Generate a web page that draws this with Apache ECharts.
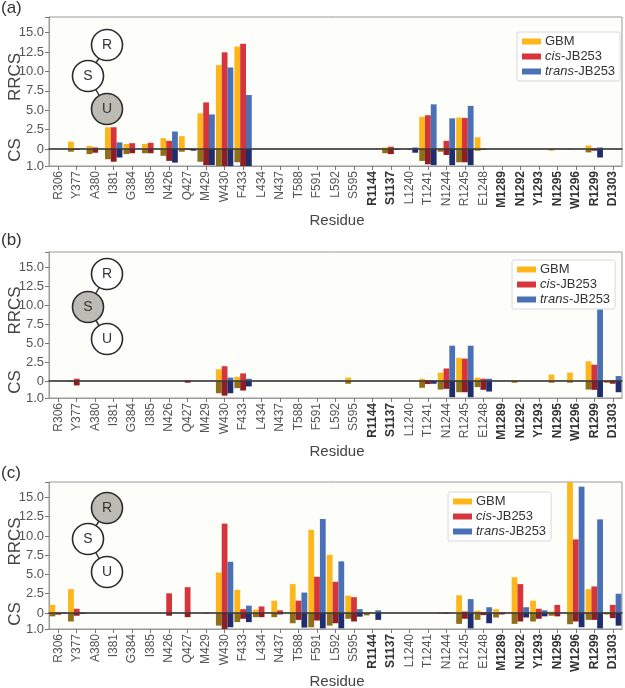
<!DOCTYPE html>
<html><head><meta charset="utf-8">
<script src="https://cdn.jsdelivr.net/npm/echarts@6/dist/echarts.min.js"></script>
<style>html,body{margin:0;padding:0;background:#fff}#c{width:625px;height:688px}</style>
</head><body><div id="c"></div>
<script>
var categories = ['R306','Y377','A380','I381','G384','I385','N426','Q427','M429','W430','F433','L434','N437','T588','F591','L592','S595','R1144','S1137','L1240','T1241','N1244','R1245','E1248','M1289','N1292','Y1293','N1295','W1296','R1299','D1303'];
var boldResidues = ['R1144','S1137','M1289','N1292','Y1293','N1295','W1296','R1299','D1303'];
var seriesNames = ['GBM','cis-JB253','trans-JB253'];
var rrcsTicks = [0, 2.5, 5, 7.5, 10, 12.5, 15];
var panelLabels = ['(a)','(b)','(c)'];
var highlighted = ['U','S','R'];

// Panel (a)
var a_gbm_rrcs   = [0,0.95,0.4,2.8,0.65,0.65,1.4,1.65,4.6,10.8,13.2,0,0,0,0,0,0,0,0.2,0,4.15,0.1,4.05,1.5,0,0,0,0.05,0,0.45,0];
var a_gbm_cs     = [0,0.16,0.3,0.6,0.3,0.25,0.4,0.16,0.75,1.0,0.78,0,0,0,0,0,0,0,0.25,0,0.7,0.16,0.78,0.1,0,0,0,0.08,0.03,0.2,0];
var a_cis_rrcs   = [0,0.05,0.2,2.8,0.75,0.8,1.05,0.05,6.0,12.45,13.55,0,0,0,0,0,0,0,0.3,0.02,4.35,1.05,4.0,0.03,0,0,0,0,0,0.1,0];
var a_cis_cs     = [0,0.05,0.22,0.75,0.25,0.25,0.7,0.05,0.95,1.0,1.0,0,0,0,0,0,0,0,0.3,0.02,0.9,0.35,0.78,0.05,0,0,0,0,0,0.1,0];
var a_trans_rrcs = [0,0,0,0.85,0,0,2.25,0,4.45,10.5,6.95,0,0,0,0,0,0,0,0.03,0.2,5.75,3.95,5.55,0,0,0,0,0,0,0.2,0];
var a_trans_cs   = [0,0,0,0.5,0,0,0.8,0.1,0.95,1.0,1.0,0,0,0,0,0,0,0,0.04,0.22,0.95,0.95,0.95,0,0,0,0,0,0,0.5,0];
// Panel (b)
var b_gbm_rrcs   = [0,0.05,0,0,0,0,0,0,0,1.55,0.55,0,0,0,0,0,0.45,0,0,0,0.3,1.1,3.05,0.45,0,0.1,0,0.85,1.1,2.6,0.1];
var b_gbm_cs     = [0,0.05,0,0,0,0,0,0,0,0.72,0.42,0,0,0,0,0,0.16,0,0,0,0.4,0.5,0.66,0.36,0,0.1,0,0.1,0.1,0.5,0.1];
var b_cis_rrcs   = [0,0.3,0,0,0,0,0,0.1,0,1.95,1.0,0,0,0,0,0,0,0,0,0,0.1,1.65,2.95,0.3,0,0,0,0,0,2.15,0.1];
var b_cis_cs     = [0,0.26,0,0,0,0,0,0.1,0,0.86,0.56,0,0,0,0,0,0,0,0,0,0.18,0.46,0.66,0.52,0,0,0,0,0,0.52,0.16];
var b_trans_rrcs = [0,0,0,0,0,0,0,0,0,0.45,0.3,0,0,0,0,0,0,0,0,0,0.05,4.65,4.65,0.3,0,0,0,0,0,9.45,0.65];
var b_trans_cs   = [0,0,0,0,0,0,0,0,0,0.72,0.32,0,0,0,0,0,0,0,0,0,0.16,0.95,0.95,0.62,0,0,0,0,0,0.95,0.66];
// Panel (c)
var c_gbm_rrcs   = [1.05,3.1,0,0,0,0,0,0,0,5.25,3.0,0.45,1.6,3.75,10.8,7.55,2.25,0.05,0,0,0,0.03,2.3,0.3,0.5,4.65,1.6,0.2,17.5,3.1,0.05];
var c_gbm_cs     = [0.21,0.53,0,0,0,0,0,0,0,0.79,0.57,0.26,0.26,0.64,0.89,0.79,0.36,0.15,0,0,0,0.05,0.68,0.43,0.28,0.68,0.53,0.17,0.7,0.43,0.09];
var c_cis_rrcs   = [0.05,0.55,0,0,0,0,2.55,3.35,0.05,11.6,0.5,0.85,0.35,1.6,4.7,4.05,2.05,0,0,0,0,0.03,0.2,0.13,0.05,3.75,0.55,1.05,9.55,3.45,1.05];
var c_cis_cs     = [0.1,0.17,0,0,0,0,0.17,0.26,0.03,1.0,0.36,0.26,0.09,0.43,0.47,0.64,0.53,0,0,0,0,0.05,0.36,0.13,0.09,0.53,0.36,0.21,0.53,0.43,0.32];
var c_trans_rrcs = [0.03,0.03,0,0,0,0,0,0,0,6.65,0.95,0,0,2.65,12.2,6.7,0.5,0.35,0,0,0,0,1.8,0.75,0,0.75,0.35,0,16.4,12.15,2.5];
var c_trans_cs   = [0.03,0.06,0,0,0,0,0,0,0,0.89,0.57,0,0,0.91,0.96,0.96,0.23,0.43,0,0,0,0,0.96,0.64,0,0.28,0.21,0,0.89,0.96,0.79];

var rrcsData = [[a_gbm_rrcs,a_cis_rrcs,a_trans_rrcs],[b_gbm_rrcs,b_cis_rrcs,b_trans_rrcs],[c_gbm_rrcs,c_cis_rrcs,c_trans_rrcs]];
var csData = [[a_gbm_cs,a_cis_cs,a_trans_cs],[b_gbm_cs,b_cis_cs,b_trans_cs],[c_gbm_cs,c_cis_cs,c_trans_cs]];

var posColors = ['#FDB71A','#D6353C','#4A70B6'];
var negColors = ['#8F7019','#8E1D24','#1F2D6E'];
var FONT = 'Liberation Sans, Arial, sans-serif';

var layout = [
  {top:17, zero:149, bottom:166, legend:[517,32], circ:{R:[107,45],S:[88,76],U:[107,109]}, labelY:10, resY:221},
  {top:252, zero:381, bottom:398, legend:[512,260], circ:{R:[107,274],S:[88,307],U:[107,339]}, labelY:242, resY:452},
  {top:482, zero:613, bottom:629, legend:[448,492], circ:{R:[107,508],S:[88,539],U:[107,572]}, labelY:475, resY:682}
];
var LEFT = 49, RIGHT = 3;

var grids=[], xAxes=[], yAxes=[], series=[], legends=[], graphics=[];
layout.forEach(function(L, p){
  grids.push({left:LEFT, right:RIGHT, top:L.top, height:L.zero-L.top, show:true, borderColor:'#9a9a9a', borderWidth:1, backgroundColor:'#fdfdfa'});
  grids.push({left:LEFT, right:RIGHT, top:L.zero, height:L.bottom-L.zero, show:true, borderColor:'#9a9a9a', borderWidth:1, backgroundColor:'#fdfdfa'});
  xAxes.push({type:'category', gridIndex:2*p, data:categories, position:'bottom', z:10,
    axisLine:{show:true, onZero:false, lineStyle:{color:'#3a3a3a', width:1.5}},
    axisTick:{show:false}, axisLabel:{show:false}, splitLine:{show:false}});
  xAxes.push({type:'category', gridIndex:2*p+1, data:categories, position:'bottom',
    axisLine:{show:true, onZero:false, lineStyle:{color:'#9a9a9a'}},
    axisTick:{show:true, alignWithLabel:true, length:4, lineStyle:{color:'#777'}},
    axisLabel:{rotate:90, interval:0, margin:5, fontSize:12, color:'#555', fontFamily:FONT,
      formatter:function(v){ return boldResidues.indexOf(v)>=0 ? '{b|'+v+'}' : v; },
      rich:{b:{fontWeight:'bold', fontSize:12, color:'#333', fontFamily:FONT}}}});
  yAxes.push({type:'value', gridIndex:2*p, min:0, max:17, interval:2.5,
    axisLine:{show:true, lineStyle:{color:'#9a9a9a'}},
    axisTick:{show:true, length:4, lineStyle:{color:'#777'}},
    splitLine:{show:false},
    axisLabel:{fontSize:13, color:'#555', margin:5, fontFamily:FONT,
      formatter:function(v){ return rrcsTicks.indexOf(v)<0 ? '' : (v===0 ? '0' : v.toFixed(1)); }}});
  yAxes.push({type:'value', gridIndex:2*p+1, min:0, max:1, interval:1, inverse:true,
    axisLine:{show:true, lineStyle:{color:'#9a9a9a'}},
    axisTick:{show:true, length:4, lineStyle:{color:'#777'}},
    splitLine:{show:false},
    axisLabel:{fontSize:13, color:'#555', margin:5, fontFamily:FONT,
      formatter:function(v){ return v===1 ? '1.0' : ''; }}});
  for (var s=0; s<3; s++){
    series.push({type:'bar', name:seriesNames[s], xAxisIndex:2*p, yAxisIndex:2*p, data:rrcsData[p][s],
      barGap:'0%', barCategoryGap:'6%', itemStyle:{color:posColors[s]}, silent:true, animation:false});
    series.push({type:'bar', name:seriesNames[s]+' CS', xAxisIndex:2*p+1, yAxisIndex:2*p+1, data:csData[p][s],
      barGap:'0%', barCategoryGap:'6%', itemStyle:{color:negColors[s]}, silent:true, animation:false});
  }
  legends.push({data:seriesNames, orient:'vertical', left:L.legend[0], top:L.legend[1],
    itemWidth:19, itemHeight:6, itemGap:2, icon:'rect', padding:[3,5,3,5],
    borderColor:'#d8d8d8', borderWidth:1, borderRadius:2, backgroundColor:'#ffffff',
    textStyle:{fontSize:13, color:'#333', fontFamily:FONT, padding:[0,0,0,-1],
      rich:{i:{fontStyle:'italic', fontSize:13, color:'#333', fontFamily:FONT}}},
    formatter:function(n){ return n.replace(/^(cis|trans)/, '{i|$1}'); }});
  graphics.push({type:'text', left:1, top:L.labelY-10, style:{text:panelLabels[p], fontSize:17, fill:'#333', fontFamily:FONT}});
  graphics.push({type:'text', x:15, y:(L.top+L.zero)/2-6, rotation:Math.PI/2,
    style:{text:'RRCS', fontSize:17, fill:'#444', fontFamily:FONT, align:'center', verticalAlign:'middle'}});
  graphics.push({type:'text', x:15, y:L.zero+1, rotation:Math.PI/2,
    style:{text:'CS', fontSize:17, fill:'#444', fontFamily:FONT, align:'center', verticalAlign:'middle'}});
  graphics.push({type:'text', x:337, y:L.resY, style:{text:'Residue', fontSize:15, fill:'#444', fontFamily:FONT, align:'center', verticalAlign:'middle'}});
  var C = L.circ;
  graphics.push({type:'line', z:50, shape:{x1:C.R[0],y1:C.R[1],x2:C.S[0],y2:C.S[1]}, style:{stroke:'#333', lineWidth:1.5}});
  graphics.push({type:'line', z:50, shape:{x1:C.S[0],y1:C.S[1],x2:C.U[0],y2:C.U[1]}, style:{stroke:'#333', lineWidth:1.5}});
  ['R','S','U'].forEach(function(k){
    graphics.push({type:'circle', z:51, shape:{cx:C[k][0], cy:C[k][1], r:15.5},
      style:{fill: highlighted[p]===k ? '#bdbcb4' : '#ffffff', stroke:'#2a2a2a', lineWidth:1.6}});
    graphics.push({type:'text', z:52, x:C[k][0], y:C[k][1], style:{text:k, fontSize:14, fill:'#333', fontFamily:FONT, align:'center', verticalAlign:'middle'}});
  });
});

var chart = echarts.init(document.getElementById('c'), null, {renderer:'canvas'});
chart.setOption({
  animation:false,
  backgroundColor:'#ffffff',
  grid:grids, xAxis:xAxes, yAxis:yAxes, series:series, legend:legends, graphic:graphics
});
</script></body></html>
